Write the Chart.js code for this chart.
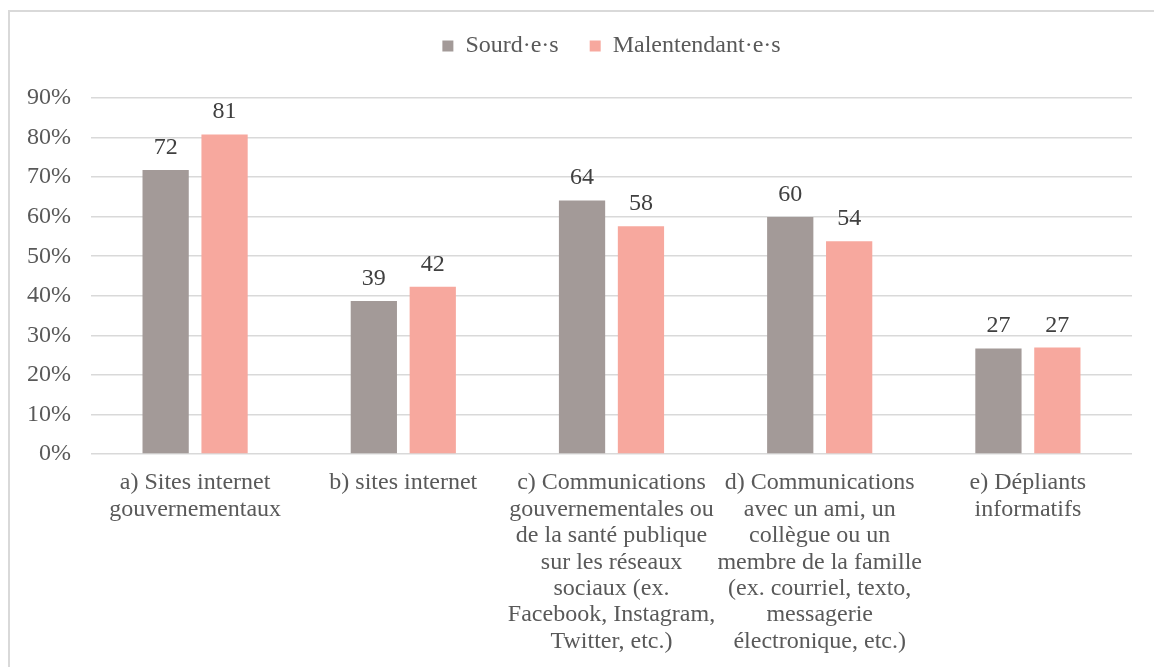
<!DOCTYPE html>
<html>
<head>
<meta charset="utf-8">
<script src="https://cdn.jsdelivr.net/npm/chart.js@4/dist/chart.umd.min.js"></script>
<style>
  html, body { margin: 0; padding: 0; background: #ffffff; }
  #wrap { position: relative; width: 1154px; height: 667px; overflow: hidden; }
  #frame { position: absolute; left: 8px; top: 10px; width: 1200px; height: 700px;
           border-top: 2px solid #d9d9d9; border-left: 2px solid #d9d9d9; box-sizing: border-box; }
  canvas { position: absolute; left: 0; top: 0; }
</style>
</head>
<body>
<div id="wrap">
  <div id="frame"></div>
  <canvas id="c" width="1154" height="667"></canvas>
</div>
<script>
const categories = [
  ["a) Sites internet", "gouvernementaux"],
  ["b) sites internet"],
  ["c) Communications", "gouvernementales ou", "de la santé publique", "sur les réseaux", "sociaux (ex.", "Facebook, Instagram,", "Twitter, etc.)"],
  ["d) Communications", "avec un ami, un", "collègue ou un", "membre de la famille", "(ex. courriel, texto,", "messagerie", "électronique, etc.)"],
  ["e) Dépliants", "informatifs"]
];
const seriesNames = ["Sourd·e·s", "Malentendant·e·s"];
const sourdes = [71.8, 38.7, 64.1, 59.9, 26.7];
const malentendantes = [80.8, 42.3, 57.6, 53.8, 26.9];
const yTicks = [0, 10, 20, 30, 40, 50, 60, 70, 80, 90];

const FONT = "'Liberation Serif', 'Times New Roman', serif";

const valueLabels = {
  id: 'valueLabels',
  afterDatasetsDraw(chart) {
    const ctx = chart.ctx;
    ctx.save();
    ctx.font = "24px " + FONT;
    ctx.fillStyle = '#404040';
    ctx.textAlign = 'center';
    ctx.textBaseline = 'alphabetic';
    chart.data.datasets.forEach((ds, i) => {
      const meta = chart.getDatasetMeta(i);
      meta.data.forEach((bar, j) => {
        ctx.fillText(String(Math.round(ds.data[j])), bar.x, bar.y - 16);
      });
    });
    ctx.restore();
  }
};

new Chart(document.getElementById('c'), {
  type: 'bar',
  data: {
    labels: categories,
    datasets: [
      { label: seriesNames[0], data: sourdes, backgroundColor: '#A39A98', borderWidth: 0 },
      { label: seriesNames[1], data: malentendantes, backgroundColor: '#F7A89E', borderWidth: 0 }
    ]
  },
  options: {
    responsive: false,
    animation: false,
    devicePixelRatio: 1,
    categoryPercentage: 0.566,
    barPercentage: 0.785,
    layout: { padding: { left: 10, right: 22, top: 3, bottom: 0 } },
    plugins: {
      tooltip: { enabled: false },
      legend: {
        position: 'top',
        fullSize: false,
        labels: {
          font: { family: FONT, size: 24 },
          color: '#595959',
          boxWidth: 11,
          boxHeight: 11,
          padding: 31
        }
      },
      title: {
        display: true,
        text: ' ',
        weight: 100,
        font: { size: 10, lineHeight: 1 },
        padding: { top: 10, bottom: 10 }
      }
    },
    scales: {
      x: {
        grid: { display: false, drawTicks: false },
        border: { display: false },
        ticks: {
          autoSkip: false,
          maxRotation: 0,
          minRotation: 0,
          padding: 16,
          color: '#595959',
          font: { family: FONT, size: 24, lineHeight: 1.1 }
        },
        afterFit(scale) { scale.height = 213; }
      },
      y: {
        min: 0,
        max: 90,
        grid: { color: '#d9d9d9', lineWidth: 1.5, drawTicks: false },
        border: { display: false },
        afterBuildTicks(scale) { scale.ticks = yTicks.map(v => ({ value: v })); },
        ticks: {
          padding: 20,
          color: '#595959',
          font: { family: FONT, size: 24 },
          callback: v => v + '%'
        },
        afterFit(scale) { scale.width = 81; }
      }
    }
  },
  plugins: [valueLabels]
});
</script>
</body>
</html>
